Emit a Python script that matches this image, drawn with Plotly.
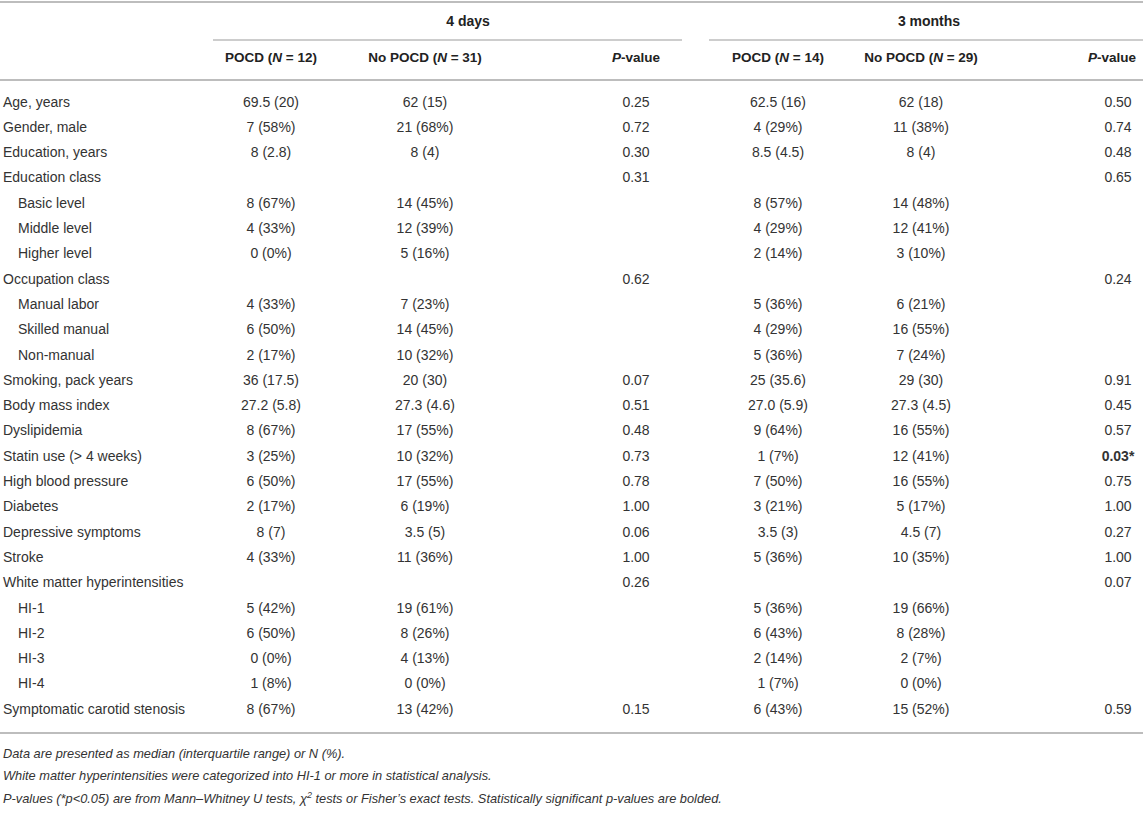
import plotly.graph_objects as go

# table content
labels = ["Age, years", "Gender, male", "Education, years", "Education class",
          "Basic level", "Middle level", "Higher level", "Occupation class",
          "Manual labor", "Skilled manual", "Non-manual", "Smoking, pack years",
          "Body mass index", "Dyslipidemia", "Statin use (> 4 weeks)",
          "High blood pressure", "Diabetes", "Depressive symptoms", "Stroke",
          "White matter hyperintensities", "HI-1", "HI-2", "HI-3", "HI-4",
          "Symptomatic carotid stenosis"]
indented = ["Basic level", "Middle level", "Higher level", "Manual labor",
            "Skilled manual", "Non-manual", "HI-1", "HI-2", "HI-3", "HI-4"]

pocd_4d = ["69.5 (20)", "7 (58%)", "8 (2.8)", "", "8 (67%)", "4 (33%)", "0 (0%)", "",
           "4 (33%)", "6 (50%)", "2 (17%)", "36 (17.5)", "27.2 (5.8)", "8 (67%)",
           "3 (25%)", "6 (50%)", "2 (17%)", "8 (7)", "4 (33%)", "", "5 (42%)",
           "6 (50%)", "0 (0%)", "1 (8%)", "8 (67%)"]
no_pocd_4d = ["62 (15)", "21 (68%)", "8 (4)", "", "14 (45%)", "12 (39%)", "5 (16%)", "",
              "7 (23%)", "14 (45%)", "10 (32%)", "20 (30)", "27.3 (4.6)", "17 (55%)",
              "10 (32%)", "17 (55%)", "6 (19%)", "3.5 (5)", "11 (36%)", "", "19 (61%)",
              "8 (26%)", "4 (13%)", "0 (0%)", "13 (42%)"]
p_4d = ["0.25", "0.72", "0.30", "0.31", "", "", "", "0.62", "", "", "", "0.07", "0.51",
        "0.48", "0.73", "0.78", "1.00", "0.06", "1.00", "0.26", "", "", "", "", "0.15"]

pocd_3m = ["62.5 (16)", "4 (29%)", "8.5 (4.5)", "", "8 (57%)", "4 (29%)", "2 (14%)", "",
           "5 (36%)", "4 (29%)", "5 (36%)", "25 (35.6)", "27.0 (5.9)", "9 (64%)",
           "1 (7%)", "7 (50%)", "3 (21%)", "3.5 (3)", "5 (36%)", "", "5 (36%)",
           "6 (43%)", "2 (14%)", "1 (7%)", "6 (43%)"]
no_pocd_3m = ["62 (18)", "11 (38%)", "8 (4)", "", "14 (48%)", "12 (41%)", "3 (10%)", "",
              "6 (21%)", "16 (55%)", "7 (24%)", "29 (30)", "27.3 (4.5)", "16 (55%)",
              "12 (41%)", "16 (55%)", "5 (17%)", "4.5 (7)", "10 (35%)", "", "19 (66%)",
              "8 (28%)", "2 (7%)", "0 (0%)", "15 (52%)"]
p_3m = ["0.50", "0.74", "0.48", "0.65", "", "", "", "0.24", "", "", "", "0.91", "0.45",
        "0.57", "0.03*", "0.75", "1.00", "0.27", "1.00", "0.07", "", "", "", "", "0.59"]

groups = ["4 days", "3 months"]
sub_headers = ["POCD (<i>N</i> = 12)", "No POCD (<i>N</i> = 31)", "<i>P</i>-value",
               "POCD (<i>N</i> = 14)", "No POCD (<i>N</i> = 29)", "<i>P</i>-value"]
footnotes = [
    "Data are presented as median (interquartile range) or N (%).",
    "White matter hyperintensities were categorized into HI-1 or more in statistical analysis.",
    "P-values (*p<0.05) are from Mann–Whitney U tests, χ<sup>2</sup> tests or Fisher’s exact tests. "
    "Statistically significant p-values are bolded.",
]

# layout (pixels)
W, H = 1143, 826
FONT = "Liberation Sans, Arial, sans-serif"
BODY = "#333333"
HEAD = "#222222"
LINE = "#bdbdbd"
col_x = [271, 425, 636, 778, 921, 1118]
head_x = [271, 425, 636, 778, 921, 1112]
group_x = [468, 929]
group_spans = [(213, 682), (709, W)]
row0, dy = 103, 25.3
row_y = [row0 + dy * i for i in range(len(labels))]

fig = go.Figure()

# row labels
label_x = [18 if l in indented else 3 for l in labels]
fig.add_trace(go.Scatter(x=label_x, y=row_y, text=labels, mode="text",
                         textposition="middle right",
                         textfont=dict(family=FONT, size=14, color=BODY)))

columns = [pocd_4d, no_pocd_4d, p_4d, pocd_3m, no_pocd_3m, p_3m]
for cx, col in zip(col_x, columns):
    keep = [i for i, v in enumerate(col) if v]
    txt = [f"<b>{col[i]}</b>" if col[i].endswith("*") else col[i] for i in keep]
    fig.add_trace(go.Scatter(x=[cx] * len(keep), y=[row_y[i] for i in keep], text=txt,
                             mode="text", textposition="middle center",
                             textfont=dict(family=FONT, size=14, color=BODY)))

# headers
fig.add_trace(go.Scatter(x=group_x, y=[22, 22], text=[f"<b>{g}</b>" for g in groups],
                         mode="text", textposition="middle center",
                         textfont=dict(family=FONT, size=14, color=HEAD)))
fig.add_trace(go.Scatter(x=head_x, y=[59] * len(head_x), text=[f"<b>{h}</b>" for h in sub_headers],
                         mode="text", textposition="middle center",
                         textfont=dict(family=FONT, size=13.5, color=HEAD)))

# footnotes
fig.add_trace(go.Scatter(x=[3] * len(footnotes), y=[755, 777, 800],
                         text=[f"<i>{f}</i>" for f in footnotes], mode="text",
                         textposition="middle right",
                         textfont=dict(family=FONT, size=12.8, color=BODY)))

# rules
for y in (2, 80, 733):
    fig.add_shape(type="line", x0=0, x1=W, y0=y, y1=y, line=dict(color=LINE, width=2))
for a, b in group_spans:
    fig.add_shape(type="line", x0=a, x1=b, y0=40, y1=40, line=dict(color=LINE, width=1.5))

fig.update_layout(
    width=W, height=H, margin=dict(l=0, r=0, t=0, b=0),
    paper_bgcolor="white", plot_bgcolor="white", showlegend=False,
    hovermode=False,
    xaxis=dict(range=[0, W], visible=False, fixedrange=True),
    yaxis=dict(range=[H, 0], visible=False, fixedrange=True),
)

fig.write_html("out.html", config={"displayModeBar": False},
               post_script="document.body.style.margin='0';")
